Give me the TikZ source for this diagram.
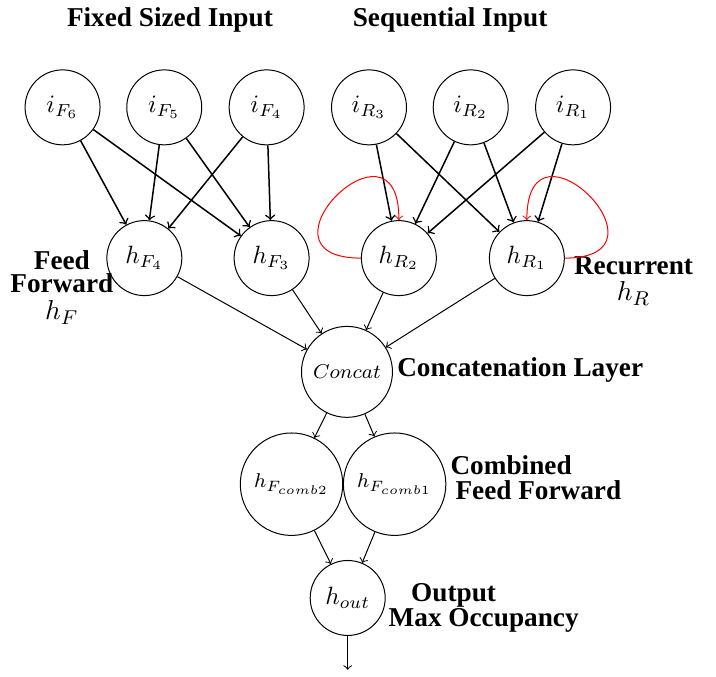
\documentclass[tikz,border=0pt]{standalone}
\usepackage{fontspec}
\setmainfont{Liberation Serif}
\begin{document}
\begin{tikzpicture}

        \useasboundingbox (0,0) rectangle (10.07,9.52);

        \begin{scope}[every node/.style={circle,draw,minimum size=30pt,inner sep=0pt}]
          \node (iF6) at (0.88,8.01) {$i_{F_6}$};
          \node (iF5) at (2.31,8.01) {$i_{F_5}$};
          \node (iF4) at (3.75,8.01) {$i_{F_4}$};
          \node (iR3) at (5.19,8.01) {$i_{R_3}$};
          \node (iR2) at (6.62,8.01) {$i_{R_2}$};
          \node (iR1) at (8.06,8.01) {$i_{R_1}$};
          \node (hF4) at (2.03,5.89) {$h_{F_4}$};
          \node (hF3) at (3.82,5.89) {$h_{F_3}$};
          \node (hR2) at (5.61,5.89) {$h_{R_2}$};
          \node (hR1) at (7.41,5.89) {$h_{R_1}$};
          \node (hout) at (4.89,1.11) {$h_{out}$};
        \end{scope}

        \begin{scope}[every node/.style={circle,draw,inner sep=0pt,font=\fontsize{8.5pt}{10pt}\selectfont}]
          \node[minimum size=36.4pt] (concat) at (4.88,4.29) {$Concat$};
          \node[minimum size=41pt] (hFc2) at (4.10,2.71) {$h_{F_{comb2}}$};
          \node[minimum size=41pt] (hFc1) at (5.55,2.71) {$h_{F_{comb1}}$};
        \end{scope}

        \coordinate (out) at (4.89,0.10);

        % layer labels
        \begin{scope}[every node/.style={font=\fontsize{10.9pt}{13pt}\selectfont\bfseries,inner sep=0pt}]
          \node (fixed) at (2.39,9.24) {Fixed Sized Input};
          \node (seq) at (6.33,9.24) {Sequential Input};
          \node[align=center] (ff) at (0.87,5.48) {Feed\\[-3.8pt]Forward\\[-2pt]$h_F$};
          \node[align=center] (rec) at (8.91,5.57) {Recurrent\\[-2.5pt]$h_R$};
          \node[anchor=west] (concatlbl) at (5.58,4.32) {Concatenation Layer};
          \node[anchor=west,align=left] (comblbl) at (6.33,2.80) {Combined\\[-3pt]\hspace*{2pt}Feed Forward};
          \node[anchor=west,align=left] (outlbl) at (5.46,0.97) {\hspace*{9pt}Output\\[-3pt]Max Occupancy};
        \end{scope}

        \begin{scope}[every edge/.style={draw,->,semithick}]
          \path (iF6) edge (hF4);
          \path (iF6) edge (hF3);
          \path (iF5) edge (hF4);
          \path (iF5) edge (hF3);
          \path (iF4) edge (hF4);
          \path (iF4) edge (hF3);
          \path (iR3) edge (hR2);
          \path (iR3) edge (hR1);
          \path (iR2) edge (hR2);
          \path (iR2) edge (hR1);
          \path (iR1) edge (hR2);
          \path (iR1) edge (hR1);
        \end{scope}

        \begin{scope}[every edge/.style={draw,->,red}]
          \path (hR2.west) edge[out=180,in=90,looseness=5.5] (hR2.north);
          \path (hR1.east) edge[out=0,in=90,looseness=5.5] (hR1.north);
        \end{scope}

        \begin{scope}[every edge/.style={draw,->}]
          \path (hF4) edge (concat);
          \path (hF3) edge (concat);
          \path (hR2) edge (concat);
          \path (hR1) edge (concat);
          \path (concat) edge (hFc2);
          \path (concat) edge (hFc1);
          \path (hFc2) edge (hout);
          \path (hFc1) edge (hout);
          \path (hout) edge (out);
        \end{scope}

      \end{tikzpicture}
\end{document}
